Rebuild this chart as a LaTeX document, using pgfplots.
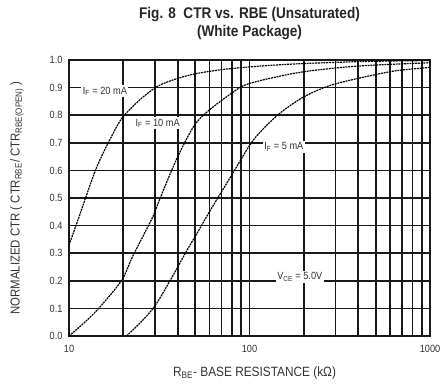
\documentclass[border=0pt]{standalone}
\usepackage{fontspec}
\setmainfont{Liberation Sans}[FakeStretch=0.88]
\usepackage{pgfplots}
\pgfplotsset{compat=1.18}
\begin{document}
\begin{tikzpicture}
\begin{axis}[
  at={(0,0)}, anchor=south west,
  scale only axis, width=361bp, height=276bp,
  xmode=log, xmin=10, xmax=1000, ymin=0, ymax=1,
  xtick={10,100,1000}, xticklabels={10,100,1000},
  minor xtick={20,30,40,50,60,70,80,90,200,300,400,500,600,700,800,900},
  ytick={0,0.1,0.2,0.3,0.4,0.5,0.6,0.7,0.8,0.9,1.0},
  yticklabel style={xshift=-3bp, /pgf/number format/.cd,fixed,fixed zerofill,precision=1,assume math mode=true},
  xticklabel style={yshift=-6bp},
  major tick length=0pt, minor tick length=0pt,
  xmajorgrids, xminorgrids, ymajorgrids,
  major grid style={black!90, line width=1.7pt},
  minor grid style={black!90, line width=1.7pt},
  axis line style={black!90, line width=1.8pt},
  tick label style={font=\fontsize{10.5}{11}\selectfont, text=black!80},
  ylabel={NORMALIZED CTR ( CTR\textsubscript{RBE}/ CTR\textsubscript{RBE(OPEN)} )},
  ylabel style={at={(axis description cs:-0.144,0.5)}, anchor=center, font=\fontsize{13}{14}\selectfont, text=black!80},
  xlabel={R\textsubscript{BE}- BASE RESISTANCE (kΩ)},
  xlabel style={at={(axis description cs:0.514,-0.134)}, anchor=center, font=\fontsize{13.5}{14}\selectfont, text=black!80},
  clip=true,
]
% I_F = 20 mA
\addplot[black, line width=1.2pt, dash pattern=on 2pt off 0.8pt, smooth] coordinates {
(10,0.33) (11,0.405) (12.5,0.51) (14.2,0.61) (16.5,0.70) (19.2,0.78) (21.3,0.815) (25.3,0.862) (31,0.905) (38.6,0.93) (50,0.95) (70,0.965) (100,0.975) (150,0.983) (214,0.988) (400,0.994) (700,0.997) (1000,0.998)
};
% I_F = 10 mA
\addplot[black, line width=1.2pt, dash pattern=on 2pt off 0.8pt, smooth] coordinates {
(10,0.0) (12,0.045) (14.6,0.10) (19.5,0.20) (22.6,0.29) (29.3,0.435) (31.8,0.495) (39.4,0.64) (48.6,0.755) (57.7,0.81) (80.9,0.883) (100,0.915) (189,0.955) (400,0.978) (1000,0.99)
};
% I_F = 5 mA
\addplot[black, line width=1.2pt, dash pattern=on 2pt off 0.8pt, smooth] coordinates {
(20.8,0.0) (25,0.05) (30,0.11) (37,0.21) (45,0.31) (51,0.37) (60,0.45) (80,0.585) (100,0.69) (115,0.74) (146,0.805) (197,0.864) (277,0.907) (423,0.937) (646,0.961) (1000,0.973)
};
\node[fill=white, inner sep=1.5pt, font=\fontsize{10.5}{11}\selectfont, text=black!80] at (axis cs:15.8,0.887) {I\textsubscript{F} = 20 mA};
\node[fill=white, inner sep=1.5pt, font=\fontsize{10.5}{11}\selectfont, text=black!80] at (axis cs:31,0.771) {I\textsubscript{F} = 10 mA};
\node[fill=white, inner sep=1.5pt, font=\fontsize{10.5}{11}\selectfont, text=black!80] at (axis cs:155,0.685) {I\textsubscript{F} = 5 mA};
\node[fill=white, inner sep=1.5pt, font=\fontsize{10.5}{11}\selectfont, text=black!80] at (axis cs:190,0.215) {V\textsubscript{CE} = 5.0V};
\end{axis}
\node[font=\fontsize{15.5}{17}\selectfont\bfseries, text=black!85] at (180.5bp,321bp) {Fig. 8\ \ CTR vs. RBE (Unsaturated)};
\node[font=\fontsize{15.5}{17}\selectfont\bfseries, text=black!85] at (180.5bp,303bp) {(White Package)};
\pgfresetboundingbox
\path[use as bounding box] (-69bp,-49bp) rectangle (372bp,336bp);
\end{tikzpicture}
\end{document}
